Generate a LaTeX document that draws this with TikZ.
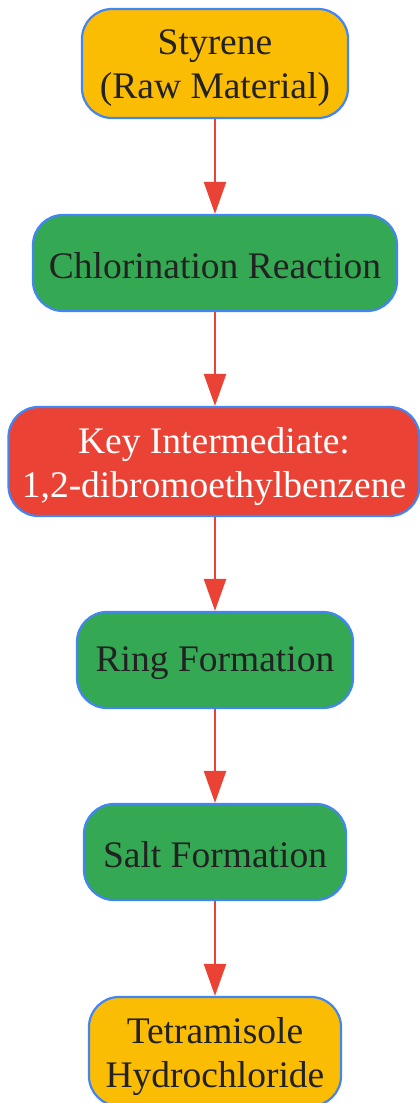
\documentclass[tikz,border=0pt]{standalone}
\usepackage{fontspec}
\setmainfont{Liberation Serif}
\usetikzlibrary{arrows.meta}
\definecolor{gyellow}{HTML}{FBBC04}
\definecolor{ggreen}{HTML}{34A853}
\definecolor{gred}{HTML}{EA4335}
\definecolor{gblue}{HTML}{4285F4}
\definecolor{txt}{HTML}{222222}
\begin{document}
\begin{tikzpicture}[x=1pt,y=1pt,
  box/.style={draw=gblue,line width=2.2pt,rounded corners=30pt,inner sep=0pt},
  lbl/.style={inner sep=0pt,align=center,font=\fontsize{37.5}{44}\selectfont,text=txt},
  raw/.style={box,fill=gyellow},
  proc/.style={box,fill=ggreen},
  key/.style={box,fill=gred},
  conn/.style={draw=gred,line width=2.5pt,-{Triangle[width=22pt,length=32pt]}}]
\useasboundingbox (0,0) rectangle (420,-1103);
\node[raw,minimum width=266pt,minimum height=109pt,
  label={[lbl,yshift=-5pt]center:Styrene\\(Raw Material)}] (n1) at (215,-63.5) {};
\node[proc,minimum width=364pt,minimum height=96pt,
  label={[lbl,yshift=-2.5pt]center:Chlorination Reaction}] (n2) at (215,-263) {};
\node[key,minimum width=411pt,minimum height=109pt,
  label={[lbl,text=white,yshift=-5pt]center:Key Intermediate:\\1,2-dibromoethylbenzene}] (n3) at (214,-461.5) {};
\node[proc,minimum width=276pt,minimum height=96pt,
  label={[lbl,yshift=-3pt]center:Ring Formation}] (n4) at (215,-660) {};
\node[proc,minimum width=262pt,minimum height=96pt,
  label={[lbl,yshift=-2.5pt]center:Salt Formation}] (n5) at (215,-852) {};
\node[raw,minimum width=252pt,minimum height=109pt,
  label={[lbl,yshift=-5pt]center:Tetramisole\\Hydrochloride}] (n6) at (215,-1051.5) {};
\draw[conn] (n1.south) -- (n2.north);
\draw[conn] (n2.south) -- (n2.south |- n3.north);
\draw[conn] (n3.south -| n4.north) -- (n4.north);
\draw[conn] (n4.south) -- (n5.north);
\draw[conn] (n5.south) -- (n6.north);
\end{tikzpicture}
\end{document}
